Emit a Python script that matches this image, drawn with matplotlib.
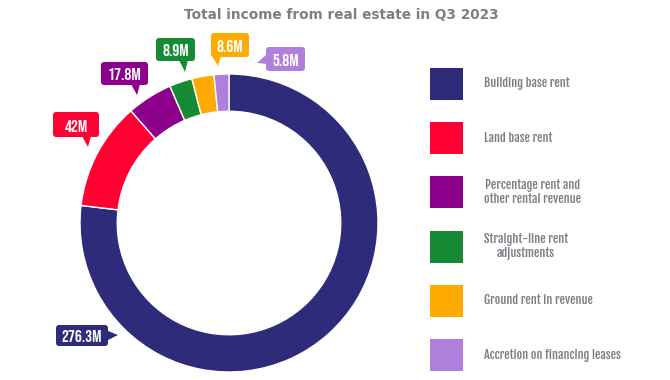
import matplotlib
matplotlib.use("Agg")
import matplotlib.pyplot as plt
from matplotlib.patches import FancyBboxPatch, Polygon, Rectangle

categories = ["Building base rent", "Land base rent",
              "Percentage rent and\nother rental revenue",
              "Straight-line rent\nadjustments", "Ground rent in revenue",
              "Accretion on financing leases"]
values = [276.3, 42, 17.8, 8.9, 8.6, 5.8]
value_labels = ["276.3M", "42M", "17.8M", "8.9M", "8.6M", "5.8M"]
colors = ["#2e2b7b", "#ff0033", "#8c008c", "#168a35", "#ffaa00", "#b07fdc"]

# callout boxes in pixel coords: (x0, y0, x1, y1), pointer tip, pointer side
callouts = [
    ((56, 325, 108, 346), (118, 335), "right"),
    ((53, 112, 99, 137), (88, 147), "down"),
    ((101, 62, 148, 85), (137, 95), "down"),
    ((156, 38, 195, 61), (185, 72), "down"),
    ((211, 33, 249, 57), (218, 66), "down"),
    ((266, 47, 305, 71), (257, 63), "left"),
]

grey = "#7e7e86"

fig = plt.figure(figsize=(6.7, 3.8), dpi=100)

# donut
ax = fig.add_axes([80 / 670, 8 / 380, 298 / 670, 298 / 380])
ax.pie(values, colors=colors, startangle=90, counterclock=False,
       wedgeprops=dict(width=0.25, edgecolor="white", linewidth=1))
ax.set_xlim(-1, 1)
ax.set_ylim(-1, 1)
ax.set_aspect("equal")

fig.text(0.51, 1 - 15 / 380, "Total income from real estate in Q3 2023",
         ha="center", va="center", fontsize=9.8, fontweight="bold",
         color=grey, family="DejaVu Sans")

# overlay in pixel coords for callouts and legend
ov = fig.add_axes([0, 0, 1, 1], zorder=5)
ov.set_xlim(0, 670)
ov.set_ylim(380, 0)
ov.axis("off")

for (box, tip, side), txt, c in zip(callouts, value_labels, colors):
    x0, y0, x1, y1 = box
    ov.add_patch(FancyBboxPatch((x0, y0), x1 - x0, y1 - y0,
                                boxstyle="round,pad=0,rounding_size=3",
                                fc=c, ec="none"))
    cx, cy = (x0 + x1) / 2, (y0 + y1) / 2
    if side == "down":
        tri = [(tip[0] - 6, y1 - 1), (tip[0] + 3, y1 - 1), tip]
    elif side == "right":
        tri = [(x1 - 1, cy - 5), (x1 - 1, cy + 5), tip]
    else:
        tri = [(x0 + 1, cy - 5), (x0 + 1, cy + 5), tip]
    ov.add_patch(Polygon(tri, closed=True, fc=c, ec="none"))
    ov.text(cx, cy + 1, txt, ha="center", va="center", color="white",
            fontsize=12.5, family=["Bebas Neue", "DejaVu Sans"])

# legend
for i, (lab, c) in enumerate(zip(categories, colors)):
    yc = 84 + i * 54.2
    ov.add_patch(Rectangle((430, yc - 16), 33, 32, fc=c, ec="none"))
    ov.text(484, yc, lab, ha="left", va="center", ma="center",
            color=grey, fontsize=8.7,
            family=["Fjalla One", "DejaVu Sans"], linespacing=1.15)

fig.savefig("out.png", dpi=100)
